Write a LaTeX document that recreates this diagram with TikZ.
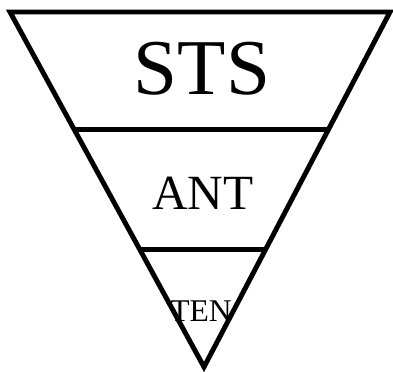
\documentclass[tikz,border=0pt]{standalone}
\usepackage{fontspec}
\setmainfont{Liberation Serif}
\usetikzlibrary{calc}
\tikzset{
  edge/.style={draw,line width=2.8pt,line join=miter},
  lvl/.style={inner sep=0pt,anchor=center},
}
\begin{document}
\begin{tikzpicture}[x=0.02cm,y=-0.02cm]
  \useasboundingbox (0,0) rectangle (393,372);
  % corners of the funnel
  \coordinate (tl) at (10,12);
  \coordinate (tr) at (390,12);
  \coordinate (apex) at (204,367);
  \draw[edge] (tl) -- (tr) -- (apex) -- cycle;
  % dividing lines
  \draw[edge] ($(tl)!0.3315!(apex)$) -- ($(tr)!0.3315!(apex)$);
  \draw[edge] ($(tl)!0.6685!(apex)$) -- ($(tr)!0.6685!(apex)$);
  \node[lvl,font=\fontsize{45}{50}\selectfont] (sts) at (202,69) {STS};
  \node[lvl,font=\fontsize{28}{32}\selectfont] (ant) at (203,193) {ANT};
  \node[lvl,font=\fontsize{18}{20}\selectfont] (ten) at (201,311) {TEN};
\end{tikzpicture}
\end{document}
